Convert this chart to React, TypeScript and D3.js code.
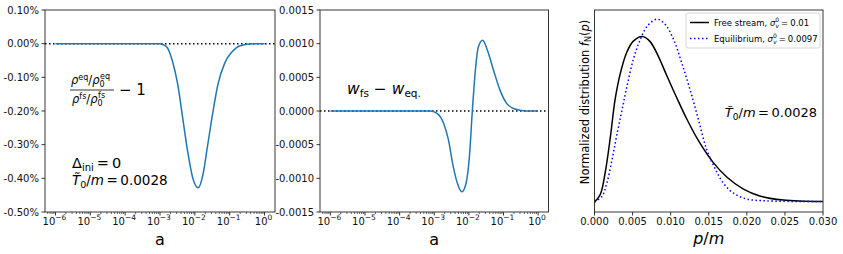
import React, { useEffect, useRef } from 'react';
import * as d3 from 'd3';

// left panel: rho ratio - 1 against log10(a)
const ratioLogA = [-6, -5, -4, -3.5, -3.01, -2.82, -2.64, -2.49, -2.35, -2.205, -2.06, -1.9, -1.77, -1.63, -1.48, -1.34, -1.14, -0.93, -0.7, -0.33, 0];
const ratioVals = [0, 0, 0, 0, 0, -0.00008, -0.00053, -0.00122, -0.0022, -0.00321, -0.00399, -0.00428, -0.0039, -0.003, -0.00202, -0.00122, -0.00057, -0.00024, -0.00006, 0, 0];

// middle panel: w_fs - w_eq against log10(a)
const wLogA = [-6, -5, -4, -3.5, -3.12, -2.92, -2.73, -2.59, -2.45, -2.3, -2.2, -2.08, -1.985, -1.9, -1.82, -1.725, -1.6, -1.47, -1.29, -1.1, -0.91, -0.67, -0.33, 0];
const wVals = [0, 0, 0, 0, 0, -0.000034, -0.000183, -0.00043, -0.00083, -0.00112, -0.0012, -0.00107, -0.00068, 0, 0.00056, 0.000955, 0.00105, 0.00091, 0.00061, 0.00031, 0.000114, 0.00003, 0, 0];

// right panel: normalized distributions
const fsP = [0, 0.00075, 0.0014, 0.0021, 0.0027, 0.0034, 0.00425, 0.0051, 0.0063, 0.0073, 0.0084, 0.0095, 0.0108, 0.0121, 0.01365, 0.0156, 0.0174, 0.01955, 0.0217, 0.0248, 0.03];
const fsVals = [0, 0.04, 0.16, 0.36, 0.56, 0.705, 0.82, 0.88, 0.905, 0.877, 0.795, 0.69, 0.57, 0.455, 0.335, 0.215, 0.135, 0.07, 0.033, 0.01, 0.002];
const eqP = [0, 0.00097, 0.0016, 0.0023, 0.0029, 0.0036, 0.00425, 0.0051, 0.006, 0.0069, 0.0082, 0.0093, 0.0104, 0.01146, 0.01255, 0.01365, 0.0147, 0.0158, 0.0169, 0.0182, 0.02, 0.0226, 0.03];
const eqVals = [0, 0.03, 0.1, 0.23, 0.36, 0.5, 0.63, 0.78, 0.887, 0.96, 1.0, 0.97, 0.887, 0.76, 0.614, 0.45, 0.29, 0.185, 0.104, 0.049, 0.016, 0.006, 0.002];

const logTicks = [-6, -5, -4, -3, -2, -1, 0];
const ratioTicks = [0.001, 0, -0.001, -0.002, -0.003, -0.004, -0.005];
const wTicks = [0.0015, 0.001, 0.0005, 0, -0.0005, -0.001, -0.0015];
const pTicks = [0, 0.005, 0.01, 0.015, 0.02, 0.025, 0.03];

const FONT = 'DejaVu Sans';
const C0 = '#1f77b4';
const top = 10;
const bottom = 212;

const App = () => {
	const ref = useRef<SVGSVGElement>(null);

	useEffect(() => {
		const svg = d3.select(ref.current);
		svg.selectAll('*').remove();
		svg.attr('font-family', FONT);

		const y1 = d3.scaleLinear().domain([-0.005, 0.001]).range([bottom, top]);
		const y2 = d3.scaleLinear().domain([-0.0015, 0.0015]).range([bottom, top]);

		const logPanel = (left: number, right: number, y: d3.ScaleLinear<number, number>, yTicks: number[], fmt: (v: number) => string, xs: number[], ys: number[]) => {
			const x = d3.scaleLinear().domain([-6.3, 0.3]).range([left, right]);
			const g = svg.append('g');

			// zero line
			g.append('line')
				.attr('x1', left).attr('x2', right)
				.attr('y1', y(0)).attr('y2', y(0))
				.attr('stroke', '#000').attr('stroke-width', 1.5)
				.attr('stroke-dasharray', '1.5,2.5');

			const line = d3.line<number>()
				.x((_, i) => x(xs[i]))
				.y(d => y(d))
				.curve(d3.curveMonotoneX);
			g.append('path')
				.attr('d', line(ys))
				.attr('fill', 'none')
				.attr('stroke', C0)
				.attr('stroke-width', 1.5);

			// minor ticks
			for (let k = -7; k <= 0; k++) {
				for (let m = 2; m <= 9; m++) {
					const v = k + Math.log10(m);
					if (v < -6.3 || v > 0.3) continue;
					g.append('line')
						.attr('x1', x(v)).attr('x2', x(v))
						.attr('y1', bottom).attr('y2', bottom + 2)
						.attr('stroke', '#000').attr('stroke-width', 0.6);
				}
			}
			logTicks.forEach(t => {
				g.append('line')
					.attr('x1', x(t)).attr('x2', x(t))
					.attr('y1', bottom).attr('y2', bottom + 3.5)
					.attr('stroke', '#000').attr('stroke-width', 0.8);
				const txt = g.append('text')
					.attr('x', x(t) - 1)
					.attr('y', 224.5)
					.attr('text-anchor', 'middle')
					.attr('font-size', 10)
					.attr('fill', '#111');
				txt.append('tspan').text('10');
				txt.append('tspan')
					.attr('dy', -4.5)
					.attr('font-size', 7.5)
					.text(t < 0 ? `\u2212${-t}` : `${t}`);
			});

			yTicks.forEach(t => {
				g.append('line')
					.attr('x1', left - 3.5).attr('x2', left)
					.attr('y1', y(t)).attr('y2', y(t))
					.attr('stroke', '#000').attr('stroke-width', 0.8);
				g.append('text')
					.attr('x', left - 6)
					.attr('y', y(t))
					.attr('dy', '0.36em')
					.attr('text-anchor', 'end')
					.attr('font-size', 10)
					.attr('fill', '#111')
					.text(fmt(t));
			});

			g.append('rect')
				.attr('x', left).attr('y', top)
				.attr('width', right - left).attr('height', bottom - top)
				.attr('fill', 'none').attr('stroke', '#222').attr('stroke-width', 0.9);

			g.append('text')
				.attr('x', (left + right) / 2)
				.attr('y', 245)
				.attr('text-anchor', 'middle')
				.attr('font-size', 16)
				.text('a');
			return g;
		};

		const g1 = logPanel(45, 275, y1, ratioTicks, v => `${(v * 100).toFixed(2)}%`, ratioLogA, ratioVals);
		const g2 = logPanel(320, 548.5, y2, wTicks, v => v.toFixed(4), wLogA, wVals);

		// left panel annotations: fraction
		const num = g1.append('text').attr('x', 71).attr('y', 84).attr('font-size', 11.5);
		num.append('tspan').attr('font-style', 'italic').text('\u03c1');
		num.append('tspan').attr('dy', -4).attr('font-size', 8).text('eq');
		num.append('tspan').attr('dy', 4).text('/');
		num.append('tspan').attr('font-style', 'italic').text('\u03c1');
		num.append('tspan').attr('dy', 3).attr('font-size', 8).text('0');
		num.append('tspan').attr('dx', -4.5).attr('dy', -8).attr('font-size', 8).text('eq');
		g1.append('line')
			.attr('x1', 70).attr('x2', 114)
			.attr('y1', 90).attr('y2', 90)
			.attr('stroke', '#000').attr('stroke-width', 0.8);
		const den = g1.append('text').attr('x', 72).attr('y', 103).attr('font-size', 11.5);
		den.append('tspan').attr('font-style', 'italic').text('\u03c1');
		den.append('tspan').attr('dy', -4).attr('font-size', 8).text('fs');
		den.append('tspan').attr('dy', 4).text('/');
		den.append('tspan').attr('font-style', 'italic').text('\u03c1');
		den.append('tspan').attr('dy', 3).attr('font-size', 8).text('0');
		den.append('tspan').attr('dx', -4.5).attr('dy', -8).attr('font-size', 8).text('fs');
		g1.append('text')
			.attr('x', 119).attr('y', 95)
			.attr('font-size', 15)
			.text('\u2212 1');

		const delta = g1.append('text').attr('x', 72).attr('y', 168).attr('font-size', 14.5);
		delta.append('tspan').text('\u0394');
		delta.append('tspan').attr('dy', 3).attr('font-size', 10).text('ini');
		delta.append('tspan').attr('dy', -3).attr('dx', 3).text('=');
		delta.append('tspan').attr('dx', 3).text('0');

		const temp1 = g1.append('text').attr('x', 72).attr('y', 184.5).attr('font-size', 13.5);
		temp1.append('tspan').attr('font-style', 'italic').text('T\u0303');
		temp1.append('tspan').attr('dy', 3).attr('font-size', 9.5).text('0');
		temp1.append('tspan').attr('dy', -3).text('/');
		temp1.append('tspan').attr('font-style', 'italic').text('m');
		temp1.append('tspan').attr('dx', 2.5).text('=');
		temp1.append('tspan').attr('dx', 2.5).text('0.0028');

		// middle panel annotation
		const wt = g2.append('text').attr('x', 347).attr('y', 94).attr('font-size', 15.5);
		wt.append('tspan').attr('font-style', 'italic').text('w');
		wt.append('tspan').attr('dy', 3).attr('font-size', 10.5).text('fs');
		wt.append('tspan').attr('dy', -3).text(' \u2212 ');
		wt.append('tspan').attr('font-style', 'italic').text('w');
		wt.append('tspan').attr('dy', 3).attr('font-size', 10.5).text('eq.');

		// right panel
		const l3 = 594.5;
		const r3 = 823;
		const x3 = d3.scaleLinear().domain([0, 0.03]).range([l3, r3]);
		const y3 = d3.scaleLinear().domain([-0.055, 1.05]).range([bottom, top]);
		const g3 = svg.append('g');

		const fsLine = d3.line<number>().x((_, i) => x3(fsP[i])).y(d => y3(d)).curve(d3.curveCatmullRom.alpha(0.5));
		const eqLine = d3.line<number>().x((_, i) => x3(eqP[i])).y(d => y3(d)).curve(d3.curveCatmullRom.alpha(0.5));
		g3.append('path')
			.attr('d', fsLine(fsVals))
			.attr('fill', 'none').attr('stroke', '#000').attr('stroke-width', 1.5);
		g3.append('path')
			.attr('d', eqLine(eqVals))
			.attr('fill', 'none').attr('stroke', '#0000ff').attr('stroke-width', 1.5)
			.attr('stroke-dasharray', '1.5,2.5');

		const fmt3 = d3.format('.3f');
		pTicks.forEach(t => {
			g3.append('line')
				.attr('x1', x3(t)).attr('x2', x3(t))
				.attr('y1', bottom).attr('y2', bottom + 3.5)
				.attr('stroke', '#000').attr('stroke-width', 0.8);
			g3.append('text')
				.attr('x', x3(t)).attr('y', 224.5)
				.attr('text-anchor', 'middle')
				.attr('font-size', 10)
				.attr('fill', '#111')
				.text(fmt3(t));
		});

		g3.append('rect')
			.attr('x', l3).attr('y', top)
			.attr('width', r3 - l3).attr('height', bottom - top)
			.attr('fill', 'none').attr('stroke', '#222').attr('stroke-width', 0.9);

		const pm = g3.append('text')
			.attr('x', (l3 + r3) / 2).attr('y', 244)
			.attr('text-anchor', 'middle')
			.attr('font-size', 16)
			.attr('font-style', 'italic');
		pm.append('tspan').text('p');
		pm.append('tspan').attr('font-style', 'normal').text('/');
		pm.append('tspan').text('m');

		const yl = g3.append('text')
			.attr('transform', `translate(588.5, ${(top + bottom) / 2 - 9}) rotate(-90)`)
			.attr('text-anchor', 'middle')
			.attr('font-size', 11.5);
		yl.append('tspan').text('Normalized distribution ');
		yl.append('tspan').attr('font-style', 'italic').text('f');
		yl.append('tspan').attr('dy', 2.5).attr('font-size', 8).text('N');
		yl.append('tspan').attr('dy', -2.5).text('(');
		yl.append('tspan').attr('font-style', 'italic').text('p');
		yl.append('tspan').text(')');

		const temp3 = g3.append('text').attr('x', 817).attr('y', 117).attr('text-anchor', 'end').attr('font-size', 13);
		temp3.append('tspan').attr('font-style', 'italic').text('T\u0303');
		temp3.append('tspan').attr('dy', 3).attr('font-size', 9).text('0');
		temp3.append('tspan').attr('dy', -3).text('/');
		temp3.append('tspan').attr('font-style', 'italic').text('m');
		temp3.append('tspan').attr('dx', 2.5).text('=');
		temp3.append('tspan').attr('dx', 2.5).text('0.0028');

		// legend
		const lg = g3.append('g');
		lg.append('rect')
			.attr('x', 686).attr('y', 13)
			.attr('width', 134).attr('height', 35)
			.attr('rx', 2)
			.attr('fill', '#fff').attr('stroke', '#ccc').attr('stroke-width', 0.8);
		const entries = [
			{ label: 'Free stream, ', val: '0.01', color: '#000', dash: null },
			{ label: 'Equilibrium, ', val: '0.0097', color: '#0000ff', dash: '1.5,2.5' }
		];
		entries.forEach((e, i) => {
			const yy = 22.5 + i * 16;
			lg.append('line')
				.attr('x1', 690).attr('x2', 709)
				.attr('y1', yy).attr('y2', yy)
				.attr('stroke', e.color).attr('stroke-width', 1.5)
				.attr('stroke-dasharray', e.dash);
			const t = lg.append('text')
				.attr('x', 714).attr('y', yy + 3.2)
				.attr('font-size', 8.5);
			t.append('tspan').text(e.label);
			t.append('tspan').attr('font-style', 'italic').text('\u03c3');
			t.append('tspan').attr('dy', -3.5).attr('font-size', 6).text('0');
			t.append('tspan').attr('dx', -3.6).attr('dy', 6).attr('font-size', 6).attr('font-style', 'italic').text('v');
			t.append('tspan').attr('dy', -2.5).attr('dx', 2).text('=');
			t.append('tspan').attr('dx', 2).text(e.val);
		});
	}, []);

	return (
		<svg
			ref={ref}
			width={843}
			height={254}
			style={{ position: 'absolute', left: 0, top: 0, background: '#fff' }}
		/>
	);
};

export default App;
